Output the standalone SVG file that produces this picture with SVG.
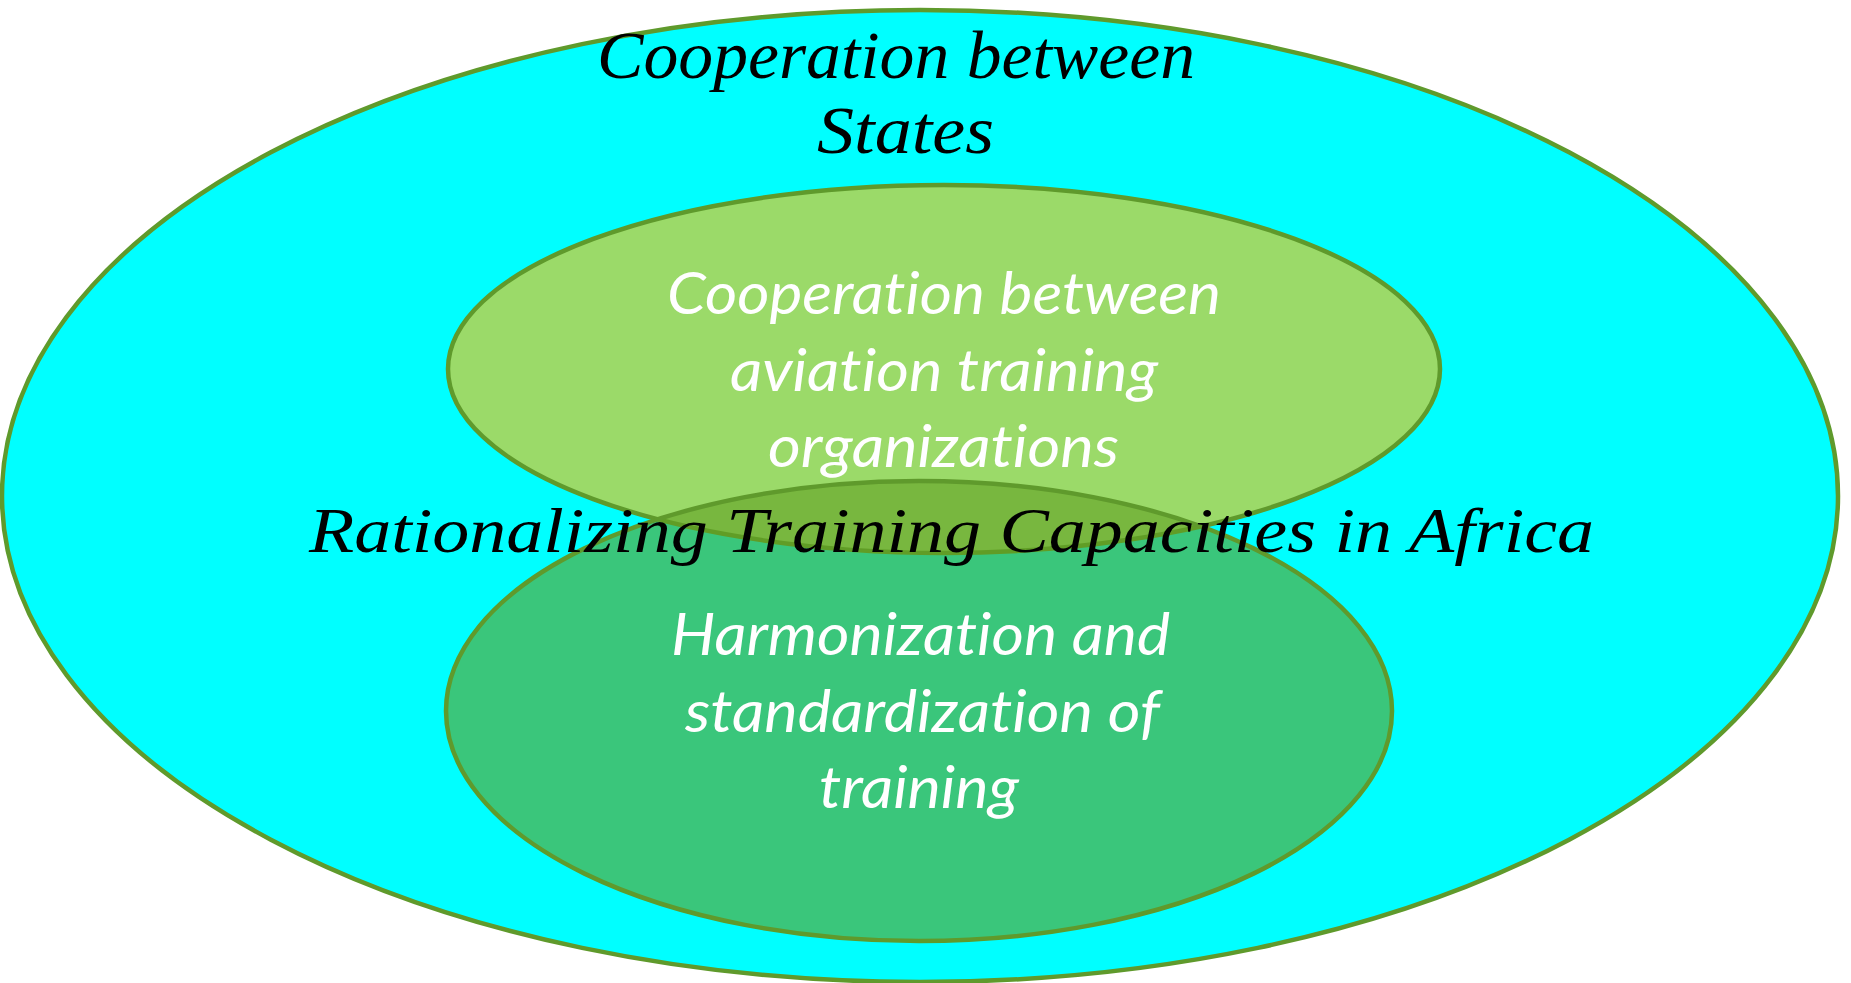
<svg xmlns="http://www.w3.org/2000/svg" width="1851" height="983" viewBox="0 0 1851 983">
<style>
.ring{stroke:#5F9A2C;stroke-width:4.5}
.serif{font-family:"Liberation Serif","DejaVu Serif",serif;font-style:italic;fill:#000}
.sans{font-family:"Lato","Open Sans","Liberation Sans",sans-serif;font-style:italic;fill:#fff;text-anchor:start;font-variant-ligatures:none;font-feature-settings:"liga" 0}
</style>
<rect width="1851" height="983" fill="#ffffff"/>
<g id="outer">
<ellipse class="ring" cx="920" cy="496" rx="918" ry="486" fill="#00FFFF"/>
<text class="serif" x="597" y="78" font-size="68" textLength="598" lengthAdjust="spacingAndGlyphs">Cooperation between</text>
<text class="serif" x="817" y="153" font-size="68" textLength="177" lengthAdjust="spacingAndGlyphs">States</text>
</g>
<g id="upper">
<ellipse class="ring" cx="944" cy="369" rx="496" ry="184" fill="#9BDA69"/>
<text class="sans" x="667" y="314" font-size="58" textLength="554" lengthAdjust="spacingAndGlyphs">Cooperation between</text>
<text class="sans" x="730" y="391" font-size="58" textLength="428" lengthAdjust="spacingAndGlyphs">aviation training</text>
<text class="sans" x="768" y="467" font-size="58" textLength="351" lengthAdjust="spacingAndGlyphs">organizations</text>
</g>
<g id="lower">
<ellipse class="ring" cx="919" cy="711" rx="473" ry="230" fill="#61A023" fill-opacity="0.6"/>
<text class="sans" x="671" y="655" font-size="58" textLength="499" lengthAdjust="spacingAndGlyphs">Harmonization and</text>
<text class="sans" x="685" y="732" font-size="58" textLength="475" lengthAdjust="spacingAndGlyphs">standardization of</text>
<text class="sans" x="819" y="808" font-size="58" textLength="200" lengthAdjust="spacingAndGlyphs">training</text>
</g>
<g id="center-label">
<text class="serif" x="309" y="552" font-size="64" textLength="1285" lengthAdjust="spacingAndGlyphs">Rationalizing Training Capacities in Africa</text>
</g>
<g id="connectors"/>
</svg>
